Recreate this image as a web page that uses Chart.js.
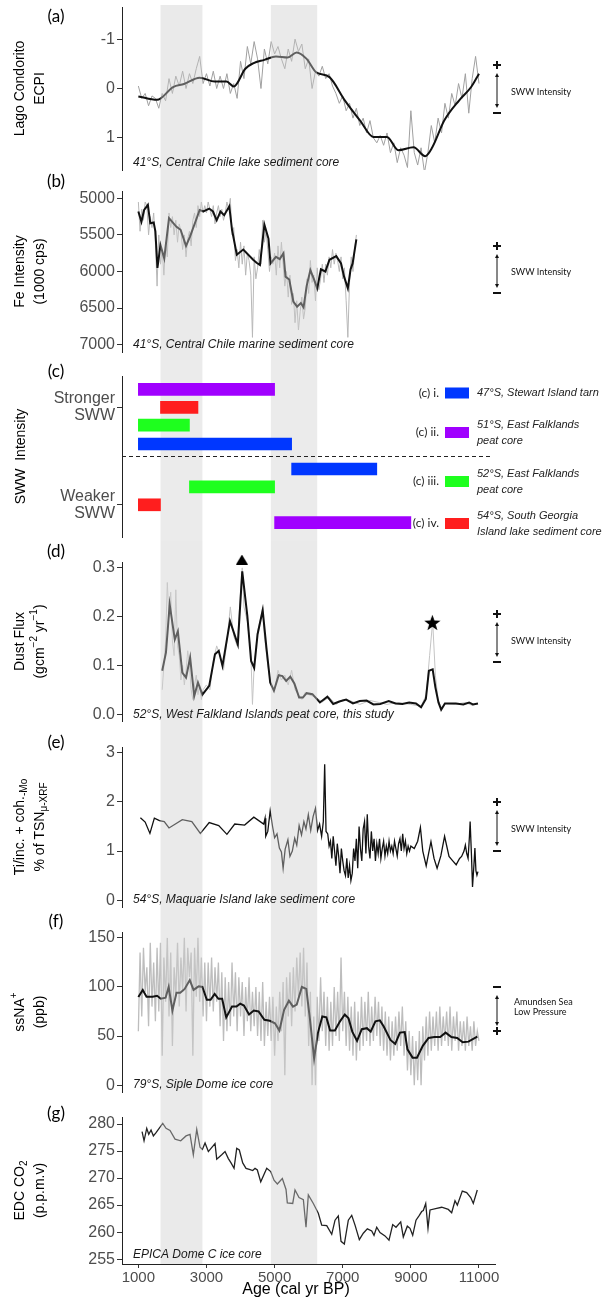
<!DOCTYPE html>
<html>
<head>
<meta charset="utf-8">
<title>Holocene SWW proxies</title>
<script src="https://cdn.jsdelivr.net/npm/chart.js"></script>
<style>
  body { margin: 0; background: #fff; }
  #wrap { position: relative; width: 602px; height: 1301px; overflow: hidden; }
  #wrap canvas { position: absolute; left: 0; }
</style>
</head>
<body>
<div id="wrap">
  <canvas id="panelA" width="602" height="172" style="top:0px"></canvas>
  <canvas id="panelB" width="602" height="188" style="top:172px"></canvas>
  <canvas id="panelC" width="602" height="181" style="top:360px"></canvas>
  <canvas id="panelD" width="602" height="188" style="top:541px"></canvas>
  <canvas id="panelE" width="602" height="182" style="top:729px"></canvas>
  <canvas id="panelF" width="602" height="188" style="top:911px"></canvas>
  <canvas id="panelG" width="602" height="202" style="top:1099px"></canvas>
</div>
<script>
// ---------- shared age axis (cal yr BP) ----------
const ageMin = 520, ageMax = 11470;
const ageTicks = [1000, 3000, 5000, 7000, 9000, 11000];
const bandFrom = [1650, 4890];
const bandTo = [2880, 6250];

// regular sampling grid of a record
function everyYears(start, step, count) {
  const out = [];
  for (let i = 0; i < count; i++) out.push(start + i * step);
  return out;
}

// ---------- (a) Lago Condorito ECPI ----------
const condRawYr = everyYears(1000, 100, 101);
const condRawVal = [
  -0.05, 0.2, 0.1, 0.35, 0.15, 0.2, 0.4, 0.1, 0.25, -0.2,
  0.1, -0.25, -0.05, -0.35, 0.0, -0.3, -0.1, -0.4, -0.65, -0.1,
  -0.3, -0.05, -0.35, 0.0, -0.25, 0.0, -0.3, 0.1, -0.1, 0.2,
  -0.55, -0.2, -0.85, -0.5, -0.95, -0.6, 0.0, -0.8, -0.5, -0.95,
  -0.7, -0.85, -0.6, -0.4, -0.8, -0.55, -1.0, -0.75, -0.9, -0.4,
  -0.6, 0.0, -0.35, -0.25, -0.45, -0.2, -0.3, -0.05, 0.1, 0.3,
  0.15, 0.45, 0.3, 0.6, 0.4, 0.75, 0.6, 0.9, 0.65, 1.0,
  1.1, 0.95, 1.15, 0.9, 1.3, 1.1, 1.5, 1.2, 1.35, 1.6,
  0.45, 1.3, 1.55, 1.2, 1.7, 1.3, 0.75, 1.1, 0.6, 0.9,
  0.3, 0.6, 0.1, 0.35, -0.1, 0.2, -0.3, 0.5, -0.2, -0.65,
  -0.1
];
const condSmoothYr = [1000, 1550, 2020, 2340, 2800, 3240, 3590, 3800, 4140, 4370, 4700, 5040, 5380, 5650, 5940,
  6220, 6610, 7060, 7510, 7900, 8300, 8630, 9080, 9420, 9630, 9980, 10420, 10770, 11000];
const condSmoothVal = [0.16, 0.23, -0.03, -0.09, -0.22, -0.14, -0.14, -0.04, -0.40, -0.51, -0.58, -0.65, -0.63, -0.73, -0.60,
  -0.33, -0.23, 0.24, 0.65, 0.98, 0.98, 1.25, 1.19, 1.37, 1.19, 0.65, 0.24, -0.03, -0.30];

// ---------- (b) Fe intensity ----------
const feRawYr = everyYears(1000, 50, 129);
const feRawVal = [
  5050, 5450, 5150, 5300, 5050, 5100, 5500, 5250, 5400, 5200,
  5600, 6200, 5500, 5900, 5700, 6050, 5600, 5800, 5200, 5400,
  5250, 5500, 5300, 5600, 5350, 5450, 5700, 5500, 5800, 5550,
  5450, 5650, 5300, 5200, 5400, 5100, 5250, 5050, 5200, 5100,
  5200, 5050, 5150, 5250, 5100, 5350, 5200, 5100, 5250, 5150,
  5300, 5200, 5050, 5150, 5000, 5500, 5400, 5850, 5700, 5950,
  5600, 5900, 5650, 6050, 5750, 5850, 6050, 6900, 5800, 6100,
  5950, 5700, 5900, 5300, 5600, 5450, 5700, 6000, 5800, 5900,
  5750, 6050, 5650, 5950, 5600, 5900, 6200, 6000, 6350, 6050,
  6450, 6300, 6700, 6400, 6800, 6550, 6350, 6650, 6500, 6100,
  6300, 5850, 6150, 6050, 6400, 5950, 6250, 6100, 5900, 6150,
  5900, 6050, 5800, 5950, 5700, 5900, 5750, 5850, 6000, 5800,
  6100, 5950, 6400, 6900, 6150, 5800, 6000, 5700, 5500
];
const feSmoothYr = [1000, 1090, 1170, 1280, 1350, 1450, 1500, 1560, 1650, 1760, 1900, 2120, 2240, 2400, 2520, 2800,
  2910, 3080, 3190, 3300, 3410, 3520, 3670, 3750, 3890, 4080, 4370, 4470, 4570, 4700, 4820, 4880, 5040, 5150,
  5260, 5320, 5430, 5550, 5660, 5770, 5850, 5940, 6050, 6160, 6250, 6360, 6490, 6610, 6810, 6950, 7040, 7150,
  7230, 7290, 7400];
const feSmoothVal = [5180, 5320, 5160, 5090, 5340, 5330, 5450, 5950, 5640, 5820, 5270, 5390, 5430, 5650, 5520, 5160,
  5180, 5140, 5180, 5300, 5180, 5230, 5110, 5430, 5770, 5700, 5840, 5880, 5910, 5360, 5550, 5890, 5800, 5830,
  5750, 6070, 6110, 6410, 6480, 6430, 6490, 6200, 5980, 6110, 6230, 5970, 6000, 5840, 5790, 5890, 6070, 6230,
  5970, 5890, 5560];

// ---------- (c) SWW intensity intervals ----------
const windSource = ['ii', 'iv', 'iii', 'i', 'i', 'iii', 'iv', 'ii'];
const windFrom = [1000, 1650, 1000, 1000, 5500, 2500, 1000, 5000];
const windTo = [5000, 2750, 2500, 5500, 8000, 5000, 1650, 9000];
const windRank = [0.75, 1.75, 2.75, 3.8, 5.2, 6.2, 7.2, 8.2];
const windSplit = 4.5;
const stanceAt = [1.75, 7.2];
const stanceLabels = [['Stronger', 'SWW'], ['Weaker', 'SWW']];
const legendKeys = ['i', 'ii', 'iii', 'iv'];
const legendTags = ['(c) i.', '(c) ii.', '(c) iii.', '(c) iv.'];
const legendText = [
  ['47°S, Stewart Island tarn'],
  ['51°S, East Falklands', 'peat core'],
  ['52°S, East Falklands', 'peat core'],
  ['54°S, South Georgia', 'Island lake sediment core']
];

// ---------- (d) dust flux ----------
const dustRawYr = [1700, 1750, 1800, 1850, 1900, 1950, 2000, 2050, 2100, 2150,
  2200, 2250, 2300, 2350, 2400, 2450, 2500, 2550, 2600, 2650,
  2700, 2750, 2800, 2850, 2900, 3000, 3100, 3200, 3300, 3400,
  3500, 3600, 3700, 3800, 3900, 4000, 4050, 4100, 4200, 4300,
  4350, 4400, 4500, 4600, 4650, 4700, 4800, 4900, 5000, 5100,
  5200, 5300, 5400, 5500, 5600, 5700, 5800, 5900, 6000, 6200,
  6400, 6600, 6800, 7000, 7200, 7500, 7800, 8000, 8300, 8600,
  9000, 9300, 9450, 9550, 9640, 9720, 9800, 9900, 10000, 10300,
  10600, 10800, 10970];
const dustRawVal = [0.05, 0.10, 0.15, 0.27, 0.20, 0.25, 0.15, 0.12, 0.255, 0.14,
  0.12, 0.07, 0.10, 0.06, 0.09, 0.13, 0.10, 0.05, 0.03, 0.06,
  0.08, 0.04, 0.06, 0.03, 0.05, 0.06, 0.05, 0.11, 0.14, 0.12,
  0.09, 0.15, 0.22, 0.16, 0.14, 0.25, 0.30, 0.22, 0.19, 0.13,
  0.02, 0.10, 0.17, 0.20, 0.22, 0.16, 0.10, 0.06, 0.05, 0.09,
  0.07, 0.08, 0.06, 0.09, 0.05, 0.04, 0.03, 0.045, 0.04, 0.035,
  0.025, 0.035, 0.02, 0.03, 0.028, 0.02, 0.028, 0.025, 0.02, 0.024,
  0.02, 0.016, 0.04, 0.12, 0.19, 0.08, 0.03, 0.012, 0.022, 0.02,
  0.024, 0.018, 0.022];
const dustYr = [1700, 1810, 1920, 2070, 2160, 2290, 2400, 2520, 2640, 2750,
  2880, 3080, 3250, 3360, 3470, 3690, 3920, 4050, 4200, 4310,
  4400, 4500, 4650, 4760, 4870, 4980, 5120, 5230, 5340, 5460,
  5580, 5720, 5830, 5940, 6110, 6330, 6550, 6720, 6900, 7100,
  7300, 7500, 7700, 7900, 8100, 8350, 8550, 8750, 8950, 9150,
  9300, 9440, 9530, 9640, 9720, 9810, 9890, 10000, 10320, 10540,
  10710, 10820, 10970];
const dustVal = [0.089, 0.126, 0.225, 0.153, 0.170, 0.085, 0.075, 0.116, 0.037, 0.065,
  0.040, 0.058, 0.123, 0.130, 0.099, 0.191, 0.143, 0.293, 0.201, 0.109,
  0.095, 0.164, 0.213, 0.136, 0.065, 0.048, 0.080, 0.078, 0.068, 0.077,
  0.063, 0.034, 0.034, 0.043, 0.041, 0.024, 0.036, 0.021, 0.026, 0.030,
  0.022, 0.027, 0.028, 0.020, 0.021, 0.027, 0.022, 0.021, 0.024, 0.022,
  0.014, 0.031, 0.089, 0.092, 0.055, 0.024, 0.009, 0.022, 0.022, 0.020,
  0.024, 0.020, 0.022];
const dustMarkYr = [4040, 9630];
const dustMarkVal = [0.317, 0.188];

// ---------- (e) Macquarie Island Ti ----------
const maqYr = [1060, 1200, 1340, 1470, 1620, 1760, 1900, 2290, 2570, 2820,
  3080, 3360, 3600, 3830, 4120, 4390, 4680, 4720, 4740,
  4800, 4870, 4940, 5000, 5070, 5140, 5200, 5250, 5310, 5390,
  5450, 5520, 5590, 5650, 5720, 5790, 5860, 5920, 5990, 6060,
  6130, 6200, 6260, 6320, 6380, 6430, 6470, 6510,
  6560, 6600, 6640, 6680, 6720, 6760, 6800, 6840, 6880, 6920,
  6960, 7000, 7040, 7080, 7120, 7160, 7200, 7240, 7280, 7320,
  7360, 7400, 7440, 7480, 7520, 7560, 7600, 7640, 7680, 7720,
  7760, 7800, 7840, 7880, 7920, 7960, 8000, 8040, 8080, 8120,
  8160, 8200, 8240, 8280, 8320, 8360, 8400,
  8440, 8480, 8520, 8560, 8600, 8640, 8680, 8720, 8760, 8800,
  8840, 8880, 8920, 8960, 9000,
  9100, 9200, 9280, 9350, 9450, 9520, 9590, 9680, 9770, 9880,
  9990, 10120, 10230, 10330, 10430, 10490, 10560, 10600, 10640, 10680,
  10720, 10740, 10780, 10810, 10850, 10880, 10910, 10940, 10970];
const maqVal = [1.68, 1.59, 1.36, 1.67, 1.62, 1.60, 1.47, 1.64, 1.60, 1.36,
  1.58, 1.52, 1.34, 1.55, 1.53, 1.69, 1.55, 1.67, 1.30,
  1.40, 1.82, 1.50, 1.27, 1.35, 1.06, 0.98, 0.65, 1.04, 1.23,
  0.89, 1.00, 1.26, 1.12, 1.52, 1.33, 1.60, 1.45, 1.74, 1.42,
  1.70, 1.87, 1.42, 1.55, 1.30, 1.60, 2.77, 1.40,
  1.35, 1.10, 1.20, 0.85, 1.30, 1.00, 0.70, 1.15, 0.90, 0.55,
  1.05, 0.80, 0.60, 0.50, 0.85, 0.45, 0.70, 0.40, 0.55, 1.05,
  0.80, 1.25, 0.65, 1.50, 1.05, 0.80, 1.45, 1.60, 0.95, 1.75,
  1.10, 0.85, 1.40, 1.00, 1.25, 0.80, 1.15, 0.95, 1.25, 0.85,
  1.05, 1.20, 0.90, 1.10, 0.95, 1.20, 1.00,
  1.10, 0.95, 1.20, 1.05, 0.90, 1.15, 1.25, 1.00, 1.35, 1.05,
  1.20, 0.95, 1.10, 1.00, 1.10,
  1.05, 1.20, 1.48, 1.00, 0.70, 0.95, 1.19, 0.85, 0.65, 0.90,
  1.30, 0.89, 0.80, 0.72, 0.85, 0.89, 1.00, 1.12, 0.95, 0.85,
  1.30, 1.60, 0.90, 0.27, 0.70, 1.06, 0.60, 0.51, 0.58];

// ---------- (f) Siple Dome ssNa+ ----------
const sipleRawYr = everyYears(1000, 50, 201);
const sipleRawVal = [
  55, 135, 70, 140, 95, 120, 60, 145, 80, 125,
  65, 140, 75, 145, 30, 130, 85, 150, 70, 135,
  40, 120, 90, 145, 80, 130, 95, 150, 75, 140,
  110, 135, 30, 140, 90, 150, 85, 130, 70, 125,
  65, 125, 80, 130, 75, 120, 85, 125, 60, 115,
  45, 110, 55, 105, 60, 125, 70, 115, 55, 110,
  70, 105, 50, 100, 65, 110, 55, 95, 60, 100,
  50, 95, 45, 105, 40, 85, 50, 90, 45, 90,
  30, 80, 45, 95, 55, 105, 10, 110, 70, 115,
  60, 120, 75, 130, 90, 135, 80, 140, 70, 125,
  40, 95, 0, 70, 0, 90, 45, 110, 55, 95,
  40, 90, 35, 85, 40, 100, 50, 95, 45, 130,
  55, 95, 40, 90, 35, 80, 30, 85, 25, 75,
  35, 90, 40, 85, 45, 95, 40, 80, 45, 90,
  50, 85, 40, 80, 35, 75, 30, 70, 25, 65,
  30, 70, 35, 75, 40, 80, 30, 65, 15, 55,
  10, 50, 0, 45, 5, 55, 0, 60, 25, 70,
  30, 75, 35, 70, 40, 75, 35, 80, 40, 70,
  45, 75, 40, 80, 35, 70, 45, 75, 35, 65,
  40, 65, 35, 70, 40, 60, 35, 65, 40, 55,
  45
];
const sipleYr = [1000, 1130, 1240, 1420, 1550, 1660, 1800, 1890, 2000, 2120,
  2230, 2360, 2510, 2620, 2770, 2880, 3010, 3120, 3240, 3350,
  3460, 3580, 3750, 3880, 3990, 4100, 4250, 4390, 4530, 4700,
  4860, 5010, 5140, 5280, 5420, 5540, 5650, 5800, 5930, 6040,
  6160, 6270, 6400, 6520, 6630, 6770, 6920, 7060, 7170, 7280,
  7420, 7560, 7710, 7820, 7960, 8090, 8200, 8400, 8540, 8680,
  8820, 8900, 9050, 9180, 9350, 9520, 9690, 9860, 10020, 10190,
  10360, 10520, 10690, 10950];
const sipleVal = [89.7, 97, 90, 90, 91, 88, 89, 100, 76, 94,
  94, 98, 107, 97, 100.6, 100, 87, 87, 93, 88,
  88, 69, 80, 80, 83, 81, 72, 76, 75, 66.5,
  65.5, 63, 55.6, 76.7, 86, 80, 82, 100, 98, 66.5,
  27, 53, 70, 69, 55.6, 55.6, 65, 72, 68, 54.5,
  45, 57, 58, 54.5, 65, 66, 60, 46, 42, 53.5,
  54, 36.5, 28, 28, 40, 48, 49, 49, 53.5, 49,
  48, 43.6, 44.3, 49.4];

// ---------- (g) EPICA Dome C CO2 ----------
const co2Yr = [1109, 1167, 1246, 1305, 1373, 1441, 1520, 1716, 1813, 1930,
  2077, 2244, 2400, 2517, 2614, 2714, 2811, 2879, 2958, 3055,
  3251, 3301, 3447, 3545, 3642, 3721, 3809, 3888, 3964, 4064,
  4161, 4258, 4358, 4425, 4493, 4593, 4769, 4886, 4983, 5080,
  5227, 5335, 5373, 5532, 5599, 5717, 5844, 5922, 5990, 6137,
  6283, 6383, 6530, 6677, 6774, 6870, 6950, 7047, 7164, 7264,
  7361, 7487, 7604, 7722, 7851, 7918, 7997, 8094, 8241, 8358,
  8467, 8564, 8702, 8778, 8896, 8975, 9054, 9151, 9248, 9318,
  9365, 9436, 9503, 9562, 9758, 9905, 10099, 10198, 10296, 10364,
  10510, 10639, 10757, 10833, 10950];
const co2Val = [278.6, 276.9, 279.2, 278.1, 278.9, 277.8, 278.4, 280.1, 279.2, 278.8,
  277.2, 276.9, 277.8, 278.1, 274.3, 279.0, 275.7, 275.3, 276.5, 274.9,
  276.4, 273.5, 274.3, 274.9, 273.6, 272.8, 271.8, 275.5, 275.2, 272.8,
  271.8, 271.6, 271.4, 271.8, 271.5, 269.3, 271.8, 271.2, 269.6, 268.9,
  269.9, 267.9, 265.4, 265.3, 267.8, 266.4, 266.0, 260.9, 266.9, 265.3,
  263.5, 261.3, 261.2, 259.6, 262.2, 263.0, 258.3, 257.8, 262.2, 263.1,
  261.3, 258.6, 259.8, 260.6, 260.2, 259.4, 260.9, 259.9, 259.3, 258.5,
  261.4, 260.9, 261.9, 259.1, 261.1, 260.7, 259.4, 262.2, 263.1, 263.8,
  264.0, 265.3, 260.7, 264.1, 264.4, 264.6, 264.2, 263.6, 265.8, 265.0,
  267.6, 267.3, 266.4, 265.3, 267.8];

// ---------- styling ----------
const SANS = '"Liberation Sans", Arial, Helvetica, sans-serif';
const ROUND = 'Lato, "Open Sans", sans-serif';
const sourceColor = { i: '#0037ff', ii: '#a000ff', iii: '#1eff1e', iv: '#ff1e1e' };

function glyph(w, h, paint) {
  const c = document.createElement('canvas');
  c.width = w; c.height = h;
  const g = c.getContext('2d');
  g.fillStyle = '#000';
  paint(g, w, h);
  return c;
}
const triangleMark = glyph(12, 10, (g, w, h) => {
  g.beginPath(); g.moveTo(w / 2, 0); g.lineTo(w, h); g.lineTo(0, h); g.closePath(); g.fill();
});
const starMark = glyph(17, 17, g => {
  g.beginPath();
  for (let k = 0; k < 10; k++) {
    const r = k % 2 ? 3.5 : 8.5;
    const a = -Math.PI / 2 + k * Math.PI / 5;
    g.lineTo(8.5 + r * Math.cos(a), 9.3 + r * Math.sin(a));
  }
  g.closePath(); g.fill();
});

function lineSet(xs, ys, color, width, order, extra) {
  return Object.assign({
    data: xs.map((x, i) => ({ x, y: ys[i] })),
    borderColor: color, borderWidth: width, pointRadius: 0,
    fill: false, tension: 0, order
  }, extra || {});
}

function hiddenAge() {
  return { type: 'linear', min: ageMin, max: ageMax, display: false };
}

function yAxis(min, max, ticks, reverse, fmt, lineHeight) {
  return {
    type: 'linear', min, max, reverse: !!reverse, offset: false,
    afterBuildTicks: s => { s.ticks = ticks.map(v => ({ value: v })); },
    afterFit: s => { s.width = 122; s.paddingTop = 0; s.paddingBottom = 0; },
    ticks: {
      font: { family: SANS, size: 16, lineHeight: lineHeight || 1.2 },
      color: '#4d4d4d', padding: 2,
      callback: fmt || (v => String(v))
    },
    grid: { drawOnChartArea: false, drawTicks: true, tickLength: 5, color: '#333', offset: false },
    border: { display: true, color: '#222', width: 1 }
  };
}

function baseOptions(pad, scales) {
  return {
    responsive: false, animation: false, events: [],
    layout: { padding: { top: pad[0], bottom: pad[1], left: 0, right: 107 } },
    plugins: { legend: { display: false }, tooltip: { enabled: false } },
    scales
  };
}

// text with sub/superscript parts: [text, 1 = sup, -1 = sub]
function drawRich(ctx, parts, size) {
  const fontOf = p => `${p[1] ? Math.round(size * 0.72) : size}px ${SANS}`;
  let total = 0;
  parts.forEach(p => { ctx.font = fontOf(p); total += ctx.measureText(p[0]).width; });
  let cx = -total / 2;
  parts.forEach(p => {
    ctx.font = fontOf(p);
    const dy = p[1] === 1 ? -size * 0.38 : p[1] === -1 ? size * 0.32 : 0;
    ctx.fillText(p[0], cx, dy);
    cx += ctx.measureText(p[0]).width;
  });
}

function drawIntensity(ctx, a) {
  const x = 497;
  ctx.strokeStyle = '#111';
  ctx.fillStyle = '#111';
  ctx.lineWidth = 2;
  [[a.topSign, a.y1], [a.bottomSign, a.y2]].forEach(([s, y]) => {
    ctx.beginPath();
    ctx.moveTo(x - 4, y); ctx.lineTo(x + 4, y);
    if (s === '+') { ctx.moveTo(x, y - 4); ctx.lineTo(x, y + 4); }
    ctx.stroke();
  });
  const t = a.y1 + 8, b = a.y2 - 5;
  ctx.lineWidth = 1;
  ctx.beginPath(); ctx.moveTo(x, t + 2); ctx.lineTo(x, b - 2); ctx.stroke();
  ctx.beginPath(); ctx.moveTo(x, t); ctx.lineTo(x - 2, t + 4); ctx.lineTo(x + 2, t + 4); ctx.closePath(); ctx.fill();
  ctx.beginPath(); ctx.moveTo(x, b); ctx.lineTo(x - 2, b - 4); ctx.lineTo(x + 2, b - 4); ctx.closePath(); ctx.fill();
  ctx.font = `9px ${ROUND}`;
  ctx.textAlign = 'left';
  ctx.textBaseline = 'middle';
  a.lines.forEach((l, i) => ctx.fillText(l, a.textX || 511, a.textY + i * 10));
}

function shadeBands(chart, cfg, color) {
  const { ctx, chartArea } = chart;
  const xs = chart.scales.x;
  const top = cfg.bandTop || 0;
  const bottom = cfg.bandsToAxis ? chartArea.bottom : chart.height;
  ctx.save();
  ctx.fillStyle = color;
  bandFrom.forEach((b, i) => {
    const x0 = xs.getPixelForValue(b), x1 = xs.getPixelForValue(bandTo[i]);
    ctx.fillRect(x0, top, x1 - x0, bottom - top);
  });
  ctx.restore();
}

// per-panel decorations: shading, titles, labels, intensity arrows
function decor(cfg) {
  return {
    id: 'decor',
    beforeDatasetsDraw(chart) {
      if (cfg.bandsBelow) shadeBands(chart, cfg, '#ebebeb');
    },
    afterDatasetsDraw(chart) {
      if (!cfg.bandsBelow) shadeBands(chart, cfg, 'rgba(205,205,205,0.42)');
    },
    afterDraw(chart) {
      const { ctx, chartArea: ca } = chart;
      ctx.save();
      ctx.fillStyle = '#000';
      ctx.textBaseline = 'middle';
      ctx.textAlign = 'center';
      ctx.font = `17px ${ROUND}`;
      ctx.fillText(cfg.letter, 56, cfg.letterY);

      const cy = (ca.top + ca.bottom) / 2;
      cfg.titles.forEach((parts, i) => {
        ctx.save();
        ctx.translate(cfg.titleX[i], cy);
        ctx.rotate(-Math.PI / 2);
        ctx.textAlign = 'left';
        drawRich(ctx, parts, 14);
        ctx.restore();
      });

      if (cfg.site) {
        ctx.font = `italic 12px ${SANS}`;
        ctx.textAlign = 'left';
        ctx.fillStyle = '#1a1a1a';
        ctx.fillText(cfg.site, 133, cfg.siteY);
      }
      if (cfg.arrow) drawIntensity(ctx, cfg.arrow);
      if (cfg.extra) cfg.extra(chart);
      ctx.restore();
    }
  };
}

// ---------- (a) ----------
new Chart(document.getElementById('panelA'), {
  type: 'line',
  data: { datasets: [
    lineSet(condSmoothYr, condSmoothVal, '#111', 2, 1, { cubicInterpolationMode: 'monotone' }),
    lineSet(condRawYr, condRawVal, '#a0a0a0', 1, 2)
  ] },
  options: baseOptions([7, 2], { x: hiddenAge(), y: yAxis(-1.65, 1.65, [-1, 0, 1], true) }),
  plugins: [decor({
    letter: '(a)', letterY: 17, bandTop: 5,
    titles: [[['Lago Condorito']], [['ECPI']]], titleX: [20, 40],
    site: '41°S, Central Chile lake sediment core', siteY: 163,
    arrow: { topSign: '+', bottomSign: '−', y1: 65, y2: 113, lines: ['SWW Intensity'], textY: 92 }
  })]
});

// ---------- (b) ----------
new Chart(document.getElementById('panelB'), {
  type: 'line',
  data: { datasets: [
    lineSet(feSmoothYr, feSmoothVal, '#111', 2, 1),
    lineSet(feRawYr, feRawVal, '#b8b8b8', 1, 2)
  ] },
  options: baseOptions([19, 8], { x: hiddenAge(), y: yAxis(4900, 7100, [5000, 5500, 6000, 6500, 7000], true) }),
  plugins: [decor({
    letter: '(b)', letterY: 10,
    titles: [[['Fe Intensity']], [['(1000 cps)']]], titleX: [20, 40],
    site: '41°S, Central Chile marine sediment core', siteY: 173,
    arrow: { topSign: '+', bottomSign: '−', y1: 74, y2: 121, lines: ['SWW Intensity'], textY: 100 }
  })]
});

// ---------- (c) ----------
new Chart(document.getElementById('panelC'), {
  type: 'bar',
  data: { datasets: [{
    data: windRank.map((r, i) => ({ x: [windFrom[i], windTo[i]], y: r })),
    backgroundColor: windSource.map(s => sourceColor[s]),
    borderWidth: 0, barThickness: 12, borderSkipped: false
  }] },
  options: Object.assign(baseOptions([16, 4], {
    x: hiddenAge(),
    y: yAxis(0, 9, stanceAt, true, (v, i) => stanceLabels[i], 1.05)
  }), { indexAxis: 'y' }),
  plugins: [decor({
    letter: '(c)', letterY: 12, bandsBelow: true,
    titles: [[['SWW  Intensity']]], titleX: [21],
    extra(chart) {
      const { ctx, chartArea: ca } = chart;
      const y = chart.scales.y.getPixelForValue(windSplit);
      ctx.save();
      ctx.strokeStyle = '#222';
      ctx.lineWidth = 1;
      ctx.setLineDash([4, 3]);
      ctx.beginPath(); ctx.moveTo(ca.left, y); ctx.lineTo(492, y); ctx.stroke();
      ctx.restore();
      const rowY = [33, 72.5, 121.5, 163.5];
      legendKeys.forEach((k, i) => {
        ctx.fillStyle = sourceColor[k];
        ctx.fillRect(445, rowY[i] - 5.5, 24, 11);
        ctx.fillStyle = '#222';
        ctx.font = `12px ${ROUND}`;
        ctx.textAlign = 'right';
        ctx.fillText(legendTags[i], 439, rowY[i]);
        ctx.font = `italic 11px ${SANS}`;
        ctx.textAlign = 'left';
        const lines = legendText[i];
        lines.forEach((l, j) => ctx.fillText(l, 477, rowY[i] + (j - (lines.length - 1) / 2) * 16));
      });
    }
  })]
});

// ---------- (d) ----------
new Chart(document.getElementById('panelD'), {
  type: 'line',
  data: { datasets: [
    lineSet(dustMarkYr, dustMarkVal, '#000', 0, 0, {
      showLine: false, pointRadius: 8, pointStyle: [triangleMark, starMark], clip: false
    }),
    lineSet(dustYr, dustVal, '#111', 2, 1),
    lineSet(dustRawYr, dustRawVal, '#c4c4c4', 1, 2)
  ] },
  options: baseOptions([21, 7], {
    x: hiddenAge(),
    y: yAxis(-0.014, 0.312, [0, 0.1, 0.2, 0.3], false, v => v.toFixed(1))
  }),
  plugins: [decor({
    letter: '(d)', letterY: 11,
    titles: [[['Dust Flux']], [['(gcm'], ['−2', 1], [' yr'], ['−1', 1], [')']]], titleX: [20, 40],
    site: '52°S, West Falkland Islands peat core, this study', siteY: 174,
    arrow: { topSign: '+', bottomSign: '−', y1: 73, y2: 121, lines: ['SWW Intensity'], textY: 100 }
  })]
});

// ---------- (e) ----------
new Chart(document.getElementById('panelE'), {
  type: 'line',
  data: { datasets: [lineSet(maqYr, maqVal, '#111', 1.3, 1)] },
  options: baseOptions([18, 4], { x: hiddenAge(), y: yAxis(-0.14, 3.12, [0, 1, 2, 3], false) }),
  plugins: [decor({
    letter: '(e)', letterY: 14,
    titles: [[['Ti/inc. + coh.'], ['-Mo', -1]], [['% of TSN'], ['μ-XRF', -1]]], titleX: [20, 40],
    site: '54°S, Maquarie Island lake sediment core', siteY: 171,
    arrow: { topSign: '+', bottomSign: '−', y1: 73, y2: 122, lines: ['SWW Intensity'], textY: 100 }
  })]
});

// ---------- (f) ----------
new Chart(document.getElementById('panelF'), {
  type: 'line',
  data: { datasets: [
    lineSet(sipleYr, sipleVal, '#111', 2, 1),
    lineSet(sipleRawYr, sipleRawVal, '#bdbdbd', 1.3, 2)
  ] },
  options: baseOptions([21, 7], { x: hiddenAge(), y: yAxis(-7, 156, [0, 50, 100, 150], false) }),
  plugins: [decor({
    letter: '(f)', letterY: 11,
    titles: [[['ssNA'], ['+', 1]], [['(ppb)']]], titleX: [20, 40],
    site: '79°S, Siple Dome ice core', siteY: 174,
    arrow: { topSign: '−', bottomSign: '+', y1: 76, y2: 120, lines: ['Amundsen Sea', 'Low Pressure'], textY: 91, textX: 514 }
  })]
});

// ---------- (g) ----------
new Chart(document.getElementById('panelG'), {
  type: 'line',
  data: { datasets: [lineSet(co2Yr, co2Val, '#222', 1.3, 1)] },
  options: baseOptions([18, 0], {
    x: {
      type: 'linear', min: ageMin, max: ageMax,
      afterBuildTicks: s => { s.ticks = ageTicks.map(v => ({ value: v })); },
      afterFit: s => { s.height = 37; s.paddingLeft = 0; s.paddingRight = 0; },
      ticks: { font: { family: SANS, size: 15 }, color: '#4d4d4d', padding: 1, maxRotation: 0, autoSkip: false, callback: v => String(v) },
      grid: { drawOnChartArea: false, drawTicks: true, tickLength: 4, color: '#333' },
      border: { display: true, color: '#222', width: 1 }
    },
    y: yAxis(254.1, 281.3, [255, 260, 265, 270, 275, 280], false)
  }),
  plugins: [decor({
    letter: '(g)', letterY: 15, bandsToAxis: true,
    titles: [[['EDC CO'], ['2', -1]], [['(p.p.m.v)']]], titleX: [20, 40],
    site: 'EPICA Dome C ice core', siteY: 156,
    extra(chart) {
      const ctx = chart.ctx;
      ctx.fillStyle = '#000';
      ctx.font = `16px ${SANS}`;
      ctx.textAlign = 'center';
      ctx.fillText('Age (cal yr BP)', 296, 191);
    }
  })]
});
</script>
</body>
</html>
